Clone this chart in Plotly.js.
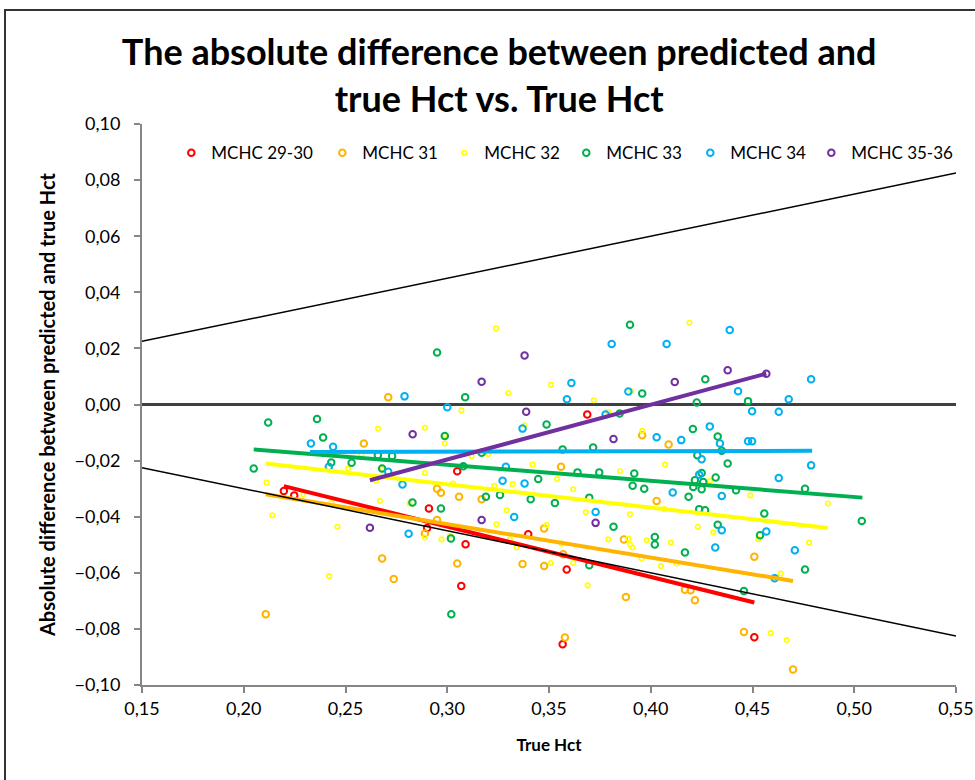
<!DOCTYPE html>
<html>
<head>
<meta charset="utf-8">
<script src="https://cdn.plot.ly/plotly-3.0.1.min.js"></script>
<style>
  html, body { margin: 0; padding: 0; background: #fff; }
  #frame { position: absolute; left: 4px; top: 9px; width: 1000px; height: 800px;
           border-left: 2px solid #333; border-top: 2px solid #333; pointer-events: none; z-index: 5; }
  #chart { position: absolute; left: 0; top: 0; width: 975px; height: 780px; }
</style>
</head>
<body>
<div id="chart"></div>
<div id="frame"></div>
<script>
// ---- Data ----
var seriesNames = ["MCHC 29-30", "MCHC 31", "MCHC 32", "MCHC 33", "MCHC 34", "MCHC 35-36"];

var redX = [0.2197, 0.2248, 0.3688, 0.3049, 0.291, 0.2901, 0.309, 0.3398, 0.3587, 0.3069, 0.3567, 0.4509];
var redY = [-0.0308, -0.0324, -0.0036, -0.0238, -0.0371, -0.0440, -0.0498, -0.0463, -0.0588, -0.0647, -0.0855, -0.083];

var orangeX = [0.271, 0.259, 0.268, 0.4088, 0.3958, 0.3559, 0.295, 0.2969, 0.3058, 0.3169, 0.4029, 0.295, 0.3476, 0.289, 0.3868,
               0.357, 0.3049, 0.337, 0.3476, 0.2737, 0.2108, 0.3878, 0.4168, 0.4196, 0.4217, 0.3578, 0.4509, 0.4458, 0.4699];
var orangeY = [0.0026, -0.0139, -0.0549, -0.0143, -0.011, -0.0222, -0.030, -0.0315, -0.0329, -0.0338, -0.0344, -0.0412, -0.0442, -0.046, -0.0481,
               -0.0534, -0.0567, -0.0569, -0.0576, -0.0622, -0.0748, -0.0686, -0.066, -0.0662, -0.0698, -0.0831, -0.0543, -0.0811, -0.0945];

var yellowX = [0.266, 0.324, 0.419, 0.351, 0.330, 0.3905, 0.372, 0.307, 0.379, 0.289, 0.338, 0.2988, 0.3958, 0.2988, 0.2578,
               0.3201, 0.312, 0.289, 0.3419, 0.3849, 0.407, 0.2513, 0.268, 0.265, 0.2112, 0.2292, 0.2669, 0.2815, 0.2431, 0.2141,
               0.246, 0.3029, 0.3231, 0.3321, 0.354, 0.3619, 0.3292, 0.3681, 0.3898, 0.4066, 0.3242, 0.3488, 0.289, 0.2972, 0.3013,
               0.3308, 0.3341, 0.3562, 0.3791, 0.389, 0.3898, 0.391, 0.398, 0.4099, 0.3955, 0.405, 0.3509, 0.3619, 0.4127, 0.4231,
               0.4291, 0.4489, 0.487, 0.4307, 0.4528, 0.4778, 0.242, 0.369, 0.4639, 0.4589, 0.4668];
var yellowY = [-0.0086, 0.0272, 0.0291, 0.0070, 0.0041, 0.0048, 0.0015, -0.0021, -0.0026, -0.0083, -0.0074, -0.0110, -0.0094, -0.0139, -0.0177,
               -0.0177, -0.0184, -0.0244, -0.0214, -0.0238, -0.0214, -0.0228, -0.0230, -0.0272, -0.0278, -0.032, -0.0344, -0.0353, -0.0351, -0.0395,
               -0.0436, -0.0282, -0.029, -0.0284, -0.0266, -0.0302, -0.0377, -0.0384, -0.0391, -0.0373, -0.0427, -0.043, -0.0474, -0.0481, -0.0468,
               -0.0481, -0.051, -0.0496, -0.0481, -0.0478, -0.0499, -0.051, -0.0484, -0.0492, -0.0549, -0.0576, -0.0565, -0.0565, -0.0567, -0.0436,
               -0.0273, -0.0324, -0.0353, -0.0456, -0.048, -0.0492, -0.0612, -0.0645, -0.0603, -0.0815, -0.084];

var greenX = [0.212, 0.236, 0.239, 0.3898, 0.295, 0.3958, 0.3088, 0.4226, 0.3847, 0.3488, 0.4207, 0.2988, 0.4268, 0.4478, 0.4329,
              0.2659, 0.2729, 0.2049, 0.243, 0.253, 0.268, 0.2829, 0.3169, 0.3567, 0.3717, 0.4229, 0.3079, 0.364, 0.3747, 0.3919,
              0.3447, 0.3911, 0.3968, 0.4186, 0.319, 0.3259, 0.341, 0.3529, 0.3698, 0.2969, 0.3817, 0.3018, 0.402, 0.402, 0.4168,
              0.3698, 0.4349, 0.4378, 0.425, 0.4217, 0.4258, 0.4319, 0.4209, 0.425, 0.4419, 0.4758, 0.4238, 0.4267, 0.4558, 0.5037,
              0.4329, 0.4537, 0.4758, 0.302, 0.4458];
var greenY = [-0.0064, -0.0052, -0.0118, 0.0284, 0.0185, 0.0039, 0.0026, 0.0007, -0.0032, -0.0071, -0.0087, -0.0112, 0.0090, 0.0012, -0.0114,
              -0.0181, -0.0184, -0.0228, -0.0207, -0.0208, -0.0228, -0.0349, -0.0172, -0.016, -0.0153, -0.0181, -0.022, -0.0242, -0.0242, -0.0246,
              -0.0266, -0.029, -0.030, -0.0329, -0.0329, -0.0323, -0.0338, -0.0351, -0.0332, -0.0371, -0.0436, -0.0478, -0.0472, -0.0499, -0.0528,
              -0.0573, -0.0165, -0.021, -0.0244, -0.027, -0.0276, -0.026, -0.0294, -0.0302, -0.0306, -0.030, -0.0373, -0.0377, -0.0389, -0.0415,
              -0.0429, -0.0466, -0.0588, -0.0748, -0.0665];

var blueX = [0.279, 0.3808, 0.4078, 0.361, 0.389, 0.3588, 0.300, 0.3778, 0.337, 0.4029, 0.415, 0.4388, 0.4788, 0.4429, 0.4678,
             0.4498, 0.4629, 0.429, 0.4478, 0.4498, 0.233, 0.2439, 0.2418, 0.271, 0.278, 0.281, 0.3288, 0.3272, 0.338, 0.4108,
             0.3329, 0.3729, 0.434, 0.425, 0.4788, 0.4238, 0.4629, 0.4349, 0.4349, 0.4568, 0.4317, 0.4708, 0.4609];
var blueY = [0.0029, 0.0216, 0.0216, 0.0077, 0.0046, 0.0019, -0.001, -0.0036, -0.0086, -0.0117, -0.0127, 0.0266, 0.0090, 0.0047, 0.0019,
             -0.0024, -0.0026, -0.0078, -0.0131, -0.0131, -0.0139, -0.0151, -0.0222, -0.024, -0.0285, -0.0461, -0.0222, -0.0272, -0.0282, -0.0314,
             -0.0401, -0.0383, -0.0139, -0.0195, -0.0217, -0.025, -0.0262, -0.0326, -0.0448, -0.0453, -0.051, -0.052, -0.0619];

var purpleX = [0.283, 0.338, 0.3169, 0.4118, 0.3388, 0.3817, 0.4378, 0.4568, 0.262, 0.3729, 0.3169];
var purpleY = [-0.0106, 0.0175, 0.0081, 0.0080, -0.0026, -0.0123, 0.0122, 0.0110, -0.0439, -0.0422, -0.0412];

// Linear trendlines (end points)
var redTrendX = [0.2197, 0.4509],    redTrendY = [-0.0291, -0.0706];
var orangeTrendX = [0.2108, 0.4699], orangeTrendY = [-0.032, -0.0629];
var yellowTrendX = [0.2108, 0.487],  yellowTrendY = [-0.021, -0.044];
var greenTrendX = [0.2049, 0.504],   greenTrendY = [-0.016, -0.0332];
var blueTrendX = [0.2325, 0.4793],   blueTrendY = [-0.0169, -0.0165];
var purpleTrendX = [0.262, 0.4568],  purpleTrendY = [-0.027, 0.011];

// Limit lines
var limitX = [0.15, 0.55];
var upperLimitY = [0.0225, 0.0825];
var lowerLimitY = [-0.0225, -0.0825];

var xTicks = [0.15, 0.20, 0.25, 0.30, 0.35, 0.40, 0.45, 0.50, 0.55];
var yTicks = [-0.10, -0.08, -0.06, -0.04, -0.02, 0.00, 0.02, 0.04, 0.06, 0.08, 0.10];

// ---- Styling ----
var colors = ["#FF0000", "#FFB400", "#FFFF00", "#00B050", "#00B0F0", "#7030A0"];
var xs = [redX, orangeX, yellowX, greenX, blueX, purpleX];
var ys = [redY, orangeY, yellowY, greenY, blueY, purpleY];
var txs = [redTrendX, orangeTrendX, yellowTrendX, greenTrendX, blueTrendX, purpleTrendX];
var tys = [redTrendY, orangeTrendY, yellowTrendY, greenTrendY, blueTrendY, purpleTrendY];
var legendWidths = [106, 77, 77, 79, 76, 100];

var traces = [];
for (var i = 0; i < 6; i++) {
  var small = (i === 2);
  traces.push({
    type: "scatter", mode: "markers", name: seriesNames[i],
    x: xs[i], y: ys[i],
    marker: { symbol: "circle-open", size: small ? 4.5 : 6.5, color: colors[i],
              line: { width: small ? 1.6 : 2, color: colors[i] } },
    legendwidth: legendWidths[i],
    hoverinfo: "x+y"
  });
}
for (var j = 0; j < 6; j++) {
  traces.push({
    type: "scatter", mode: "lines", x: txs[j], y: tys[j], showlegend: false,
    line: { color: colors[j], width: 4 }, hoverinfo: "skip"
  });
}
traces.push({ type: "scatter", mode: "lines", x: limitX, y: upperLimitY, showlegend: false,
              line: { color: "#000", width: 1.5 }, hoverinfo: "skip" });
traces.push({ type: "scatter", mode: "lines", x: limitX, y: lowerLimitY, showlegend: false,
              line: { color: "#000", width: 1.5 }, hoverinfo: "skip" });

var FONT = "Lato, 'Open Sans', sans-serif";
var layout = {
  width: 975, height: 780,
  margin: { l: 142, r: 19, t: 124, b: 95 },
  paper_bgcolor: "#fff", plot_bgcolor: "#fff",
  separators: ", ",
  font: { family: FONT, color: "#000" },
  title: {
    text: "<b>The absolute difference between predicted and<br>true Hct vs. True Hct</b>",
    font: { family: FONT, size: 36, color: "#000" },
    x: 0.512, xanchor: "center", xref: "container",
    y: 0.917, yanchor: "top", yref: "container"
  },
  xaxis: {
    range: [0.15, 0.55], tickvals: xTicks, tickformat: ".2f",
    showgrid: false, zeroline: false,
    showline: true, linecolor: "#868686", linewidth: 2,
    ticks: "outside", ticklen: 6, tickcolor: "#868686", tickwidth: 2,
    tickfont: { family: FONT, size: 18, color: "#000" },
    title: { text: "<b>True Hct</b>", font: { family: FONT, size: 17, color: "#000" }, standoff: 22 }
  },
  yaxis: {
    range: [-0.10, 0.10], tickvals: yTicks, tickformat: ".2f",
    showgrid: false,
    zeroline: true, zerolinecolor: "#404040", zerolinewidth: 2.5,
    showline: true, linecolor: "#868686", linewidth: 2,
    ticks: "outside", ticklen: 6, tickcolor: "#868686", tickwidth: 2,
    ticklabelstandoff: 10,
    tickfont: { family: FONT, size: 18, color: "#000" },
    title: { text: "<b>Absolute difference between predicted and true Hct</b>",
             font: { family: FONT, size: 20, color: "#000" }, standoff: 14 }
  },
  showlegend: true,
  legend: {
    orientation: "h", x: 0.036, xanchor: "left", y: 0.948, yanchor: "middle",
    font: { family: FONT, size: 17, color: "#000" },
    bgcolor: "rgba(0,0,0,0)", borderwidth: 0, traceorder: "normal",
    entrywidthmode: "pixels"
  }
};

Plotly.newPlot("chart", traces, layout, { displayModeBar: false, staticPlot: true });
</script>
</body>
</html>
